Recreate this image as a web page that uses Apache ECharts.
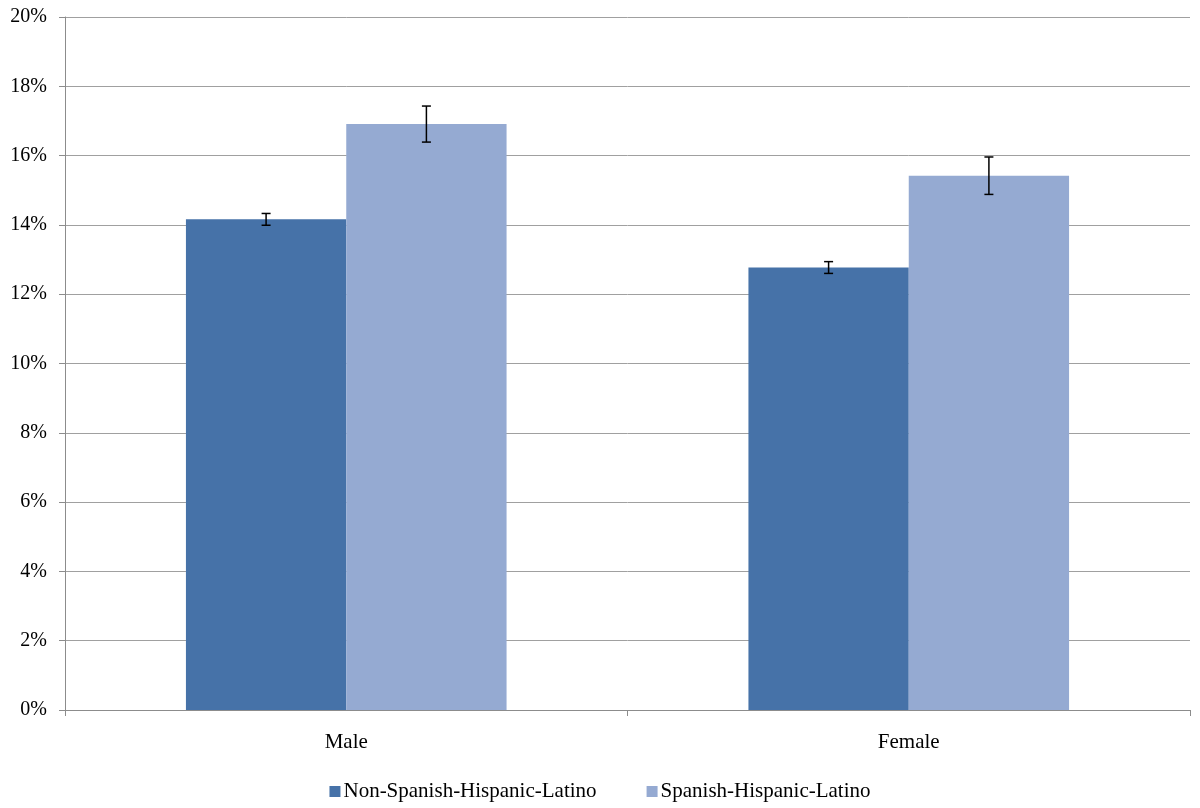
<!DOCTYPE html>
<html><head><meta charset="utf-8">
<script src="https://cdn.jsdelivr.net/npm/echarts@6/dist/echarts.min.js"></script>
<style>html,body{margin:0;padding:0;background:#fff}#c{width:1200px;height:808px}</style>
</head><body><div id="c"></div>
<script>
const categories = ['Male', 'Female'];
const seriesNames = ['Non-Spanish-Hispanic-Latino', 'Spanish-Hispanic-Latino'];
const nonSpanish = [14.16, 12.77];
const spanish = [16.91, 15.42];
const nonSpanishErr = [0.17, 0.17];
const spanishErr = [0.52, 0.54];
const yTicks = [0, 2, 4, 6, 8, 10, 12, 14, 16, 18, 20];

const colors = ['#4672A8', '#95AAD2'];
const gapPct = 43;
const font = "'Liberation Serif', 'Times New Roman', serif";

function errSeries(vals, errs, idx) {
  return {
    type: 'custom',
    name: seriesNames[idx] + ' err',
    data: vals.map((v, i) => [i, v, errs[i]]),
    z: 10,
    silent: true,
    renderItem: function (params, api) {
      const i = api.value(0), v = api.value(1), e = api.value(2);
      const band = api.size([1, 0])[0];
      const bw = band * (1 - gapPct / 100) / 2;
      const off = (idx === 0 ? -1 : 1) * bw / 2;
      const hi = api.coord([i, v + e]);
      const lo = api.coord([i, v - e]);
      const x = hi[0] + off;
      const cap = 4.5;
      const st = { stroke: '#000', lineWidth: 1.5 };
      return { type: 'group', children: [
        { type: 'line', shape: { x1: x, y1: hi[1], x2: x, y2: lo[1] }, style: st },
        { type: 'line', shape: { x1: x - cap, y1: hi[1], x2: x + cap, y2: hi[1] }, style: st },
        { type: 'line', shape: { x1: x - cap, y1: lo[1], x2: x + cap, y2: lo[1] }, style: st }
      ]};
    }
  };
}

const chart = echarts.init(document.getElementById('c'));
chart.setOption({
  animation: false,
  backgroundColor: '#fff',
  textStyle: { fontFamily: font },
  grid: { left: 65, right: 10, top: 17, bottom: 98, containLabel: false },
  legend: {
    data: seriesNames,
    top: 776,
    left: 'center',
    itemWidth: 11, itemHeight: 11, itemGap: 50,
    icon: 'rect',
    textStyle: { fontFamily: font, fontSize: 21, color: '#000', padding: [0, 0, 0, -2] }
  },
  xAxis: {
    type: 'category',
    data: categories,
    axisLine: { lineStyle: { color: '#8c8c8c', width: 1 } },
    axisTick: { show: true, alignWithLabel: false, length: 6, lineStyle: { color: '#8c8c8c' } },
    axisLabel: { fontFamily: font, fontSize: 21, color: '#000', margin: 22 }
  },
  yAxis: {
    type: 'value',
    min: yTicks[0], max: yTicks[yTicks.length - 1], interval: 2,
    axisLine: { show: true, lineStyle: { color: '#8c8c8c', width: 1 } },
    axisTick: { show: true, length: 6, lineStyle: { color: '#8c8c8c' } },
    splitLine: { lineStyle: { color: '#a0a0a0', width: 1 } },
    axisLabel: { fontFamily: font, fontSize: 20, color: '#000', margin: 18, formatter: '{value}%' }
  },
  series: [
    { type: 'bar', name: seriesNames[0], data: nonSpanish, itemStyle: { color: colors[0] }, barGap: '0%', barCategoryGap: gapPct + '%' },
    { type: 'bar', name: seriesNames[1], data: spanish, itemStyle: { color: colors[1] }, barGap: '0%', barCategoryGap: gapPct + '%' },
    errSeries(nonSpanish, nonSpanishErr, 0),
    errSeries(spanish, spanishErr, 1)
  ]
});
</script></body></html>
